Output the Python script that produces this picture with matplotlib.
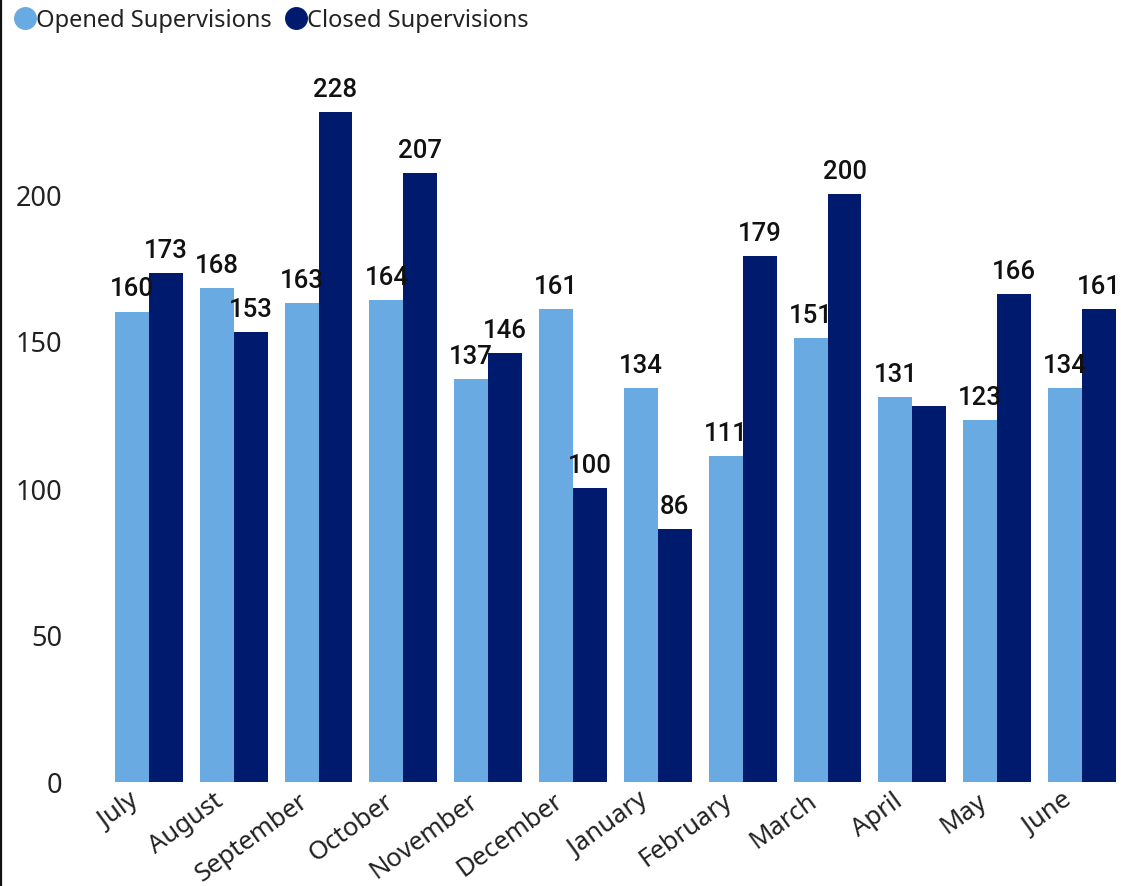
import matplotlib
matplotlib.use("Agg")
import matplotlib.pyplot as plt
import numpy as np
from matplotlib.lines import Line2D
from matplotlib.transforms import ScaledTranslation

months = ["July", "August", "September", "October", "November", "December",
          "January", "February", "March", "April", "May", "June"]
opened = [160, 168, 163, 164, 137, 161, 134, 111, 151, 131, 123, 134]
closed = [173, 153, 228, 207, 146, 100, 86, 179, 200, 128, 166, 161]
closed_hidden_labels = ["April"]
yticks = [0, 50, 100, 150, 200]

c_open = "#6AAAE3"
c_closed = "#001B6E"

W, H = 1121, 887
fig = plt.figure(figsize=(W / 100, H / 100), dpi=100)
ax_l, ax_r = 64, 1116
ax_b, ax_t = 783, 48
ax = fig.add_axes([ax_l / W, 1 - ax_b / H, (ax_r - ax_l) / W, (ax_b - ax_t) / H])

x = np.arange(len(months))
w = 0.4
b1 = ax.bar(x - w / 2, opened, width=w, color=c_open, zorder=2)
b2 = ax.bar(x + w / 2, closed, width=w, color=c_closed, zorder=2)

lab_font = dict(family=["Roboto", "DejaVu Sans"], fontsize=18.5, weight="medium", color="#111111")
l1 = ax.bar_label(b1, labels=[str(v) for v in opened], padding=8, **lab_font)
l2 = ax.bar_label(b2, labels=["" if m in closed_hidden_labels else str(v)
                              for m, v in zip(months, closed)], padding=8, **lab_font)
for t in list(l1) + list(l2):
    t.set_zorder(5)

ax.set_xlim(-1.0, 11.4)
ax.set_ylim(0, 250)
ax.set_yticks(yticks)
ax.set_yticklabels([str(v) for v in yticks], family=["Noto Sans", "DejaVu Sans"], fontsize=19.5, color="#222222")
ax.set_xticks(x)
ax.set_xticklabels(months, family=["Noto Sans", "DejaVu Sans"], fontsize=18.5, color="#222222",
                   rotation=36, ha="right", va="top", rotation_mode="anchor")
ax.tick_params(axis="both", length=0)
ax.tick_params(axis="y", pad=1)
ax.tick_params(axis="x", pad=4)
shift = ScaledTranslation(-20 / 100, 0, fig.dpi_scale_trans)
for lab in ax.get_xticklabels():
    lab.set_transform(lab.get_transform() + shift)
for s in ax.spines.values():
    s.set_visible(False)

handles = [Line2D([], [], marker="o", linestyle="", markersize=15.5, color=c_open),
           Line2D([], [], marker="o", linestyle="", markersize=15.5, color=c_closed)]
fig.legend(handles, ["Opened Supervisions", "Closed Supervisions"], loc="upper left",
           bbox_to_anchor=(11 / W, 1 - 9 / H), ncol=2, frameon=False,
           prop=dict(family=["Noto Sans", "DejaVu Sans"], size=17),
           handletextpad=-0.15, columnspacing=0.45, borderpad=0, handlelength=1.2,
           borderaxespad=0, labelcolor="#222222")

fig.add_artist(Line2D([1.5 / W, 1.5 / W], [0, 1], transform=fig.transFigure,
                      color="#111111", linewidth=1.6))

fig.savefig("out.png", dpi=100)
